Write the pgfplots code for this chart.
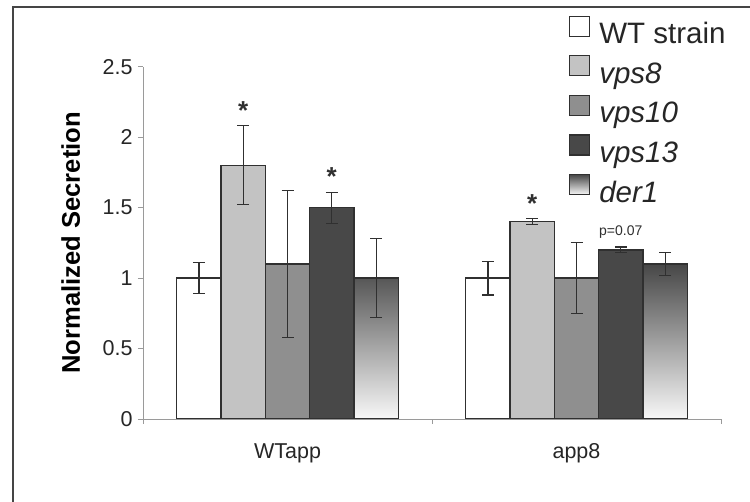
\documentclass[border=0pt]{standalone}
\usepackage{fontspec}
\setmainfont{Liberation Sans}
\usepackage{pgfplots}
\usepackage{pgfplotstable}
\pgfplotsset{compat=1.18}

\definecolor{edge}{HTML}{303030}
\definecolor{c8}{HTML}{C3C3C3}
\definecolor{c10}{HTML}{8F8F8F}
\definecolor{c13}{HTML}{484848}
\definecolor{dtop}{HTML}{474747}
\definecolor{dbot}{HTML}{F8F8F8}
\definecolor{axgray}{HTML}{9A9A9A}

\newcommand{\tfont}{\fontsize{21.5}{25}\selectfont}

% group, mean and error of each strain
\pgfplotstableread{
x  wt   wte   v8    v8e   v10   v10e  v13   v13e  d1    d1e
0  1.00 0.11  1.80  0.28  1.10  0.52  1.50  0.11  1.00  0.28
1  1.00 0.12  1.40  0.02  1.00  0.25  1.20  0.02  1.10  0.08
}\secr

\begin{document}
\begin{tikzpicture}
\useasboundingbox (0,0) rectangle (750pt,502pt);
\fill[white] (0,0) rectangle (750pt,502pt);
\draw[line width=2pt, color=edge!90] (13pt,-5pt) -- (13pt,495pt) -- (760pt,495pt);

\begin{axis}[
    at={(143pt,83pt)}, anchor=south west,
    scale only axis,
    width=578pt, height=352.3pt,
    ybar=0pt, bar width=44.3pt,
    xmin=-0.5, xmax=1.5,
    ymin=0, ymax=2.5,
    axis lines=left,
    axis line style={draw=axgray, line width=0.9pt, -},
    xtick={-0.5,0.5,1.5}, xticklabels={},
    extra x ticks={0,1}, extra x tick labels={\tfont WTapp,\tfont app8},
    extra x tick style={tick style={draw=none},
        tick label style={yshift=-16pt}},
    ytick={0,0.5,...,2.5},
    yticklabel={\tfont\pgfmathprintnumber{\tick}},
    tick align=outside, major tick length=5pt,
    tick style={draw=axgray, line width=0.9pt},
    every tick label/.append style={text=black!85},
    yticklabel style={xshift=-2pt},
    /pgf/number format/assume math mode=true,
    ylabel={\textbf{Normalized Secretion}},
    y label style={at={(axis description cs:-0.125,0.5)}, anchor=center,
        font=\fontsize{25.6}{30}\selectfont},
    every axis plot/.append style={draw=edge, line width=1.3pt},
    error bars/error bar style={draw=edge, line width=1.2pt},
    error bars/error mark options={rotate=90, mark size=6pt, line width=1.2pt, draw=edge},
    legend style={at={(axis description cs:0.737,1.145)}, anchor=north west,
        draw=none, fill=none, inner sep=0pt, row sep=5.5pt, column sep=9pt,
        nodes={inner sep=0pt, text height=21pt, text depth=6pt,
               font=\fontsize{29.5}{35}\selectfont, text=black!85}},
    legend cell align=left,
    legend image code/.code={\draw[#1, line width=1.1pt] (0pt,0pt) rectangle (20pt,20pt);},
]
\addplot[fill=white, error bars/.cd, y dir=both, y explicit]
    table[x=x, y=wt, y error=wte] {\secr};
\addlegendentry{WT strain}
\addplot[fill=c8, error bars/.cd, y dir=both, y explicit]
    table[x=x, y=v8, y error=v8e] {\secr};
\addlegendentry{\textit{vps8}}
\addplot[fill=c10, error bars/.cd, y dir=both, y explicit]
    table[x=x, y=v10, y error=v10e] {\secr};
\addlegendentry{\textit{vps10}}
\addplot[fill=c13, error bars/.cd, y dir=both, y explicit]
    table[x=x, y=v13, y error=v13e] {\secr};
\addlegendentry{\textit{vps13}}
\addplot[top color=dtop, bottom color=dbot, error bars/.cd, y dir=both, y explicit]
    table[x=x, y=d1, y error=d1e] {\secr};
\addlegendentry{\textit{der1}}

% significance marks
\node[anchor=base, font=\fontsize{26}{30}\selectfont\bfseries, text=edge] at (axis cs:-0.153,2.125) {*};
\node[anchor=base, font=\fontsize{26}{30}\selectfont\bfseries, text=edge] at (axis cs:0.153,1.657) {*};
\node[anchor=base, font=\fontsize{26}{30}\selectfont\bfseries, text=edge] at (axis cs:0.847,1.466) {*};
\node[anchor=center, font=\fontsize{14}{16}\selectfont, text=edge] at (axis cs:1.153,1.328) {p=0.07};
\end{axis}
\end{tikzpicture}
\end{document}
